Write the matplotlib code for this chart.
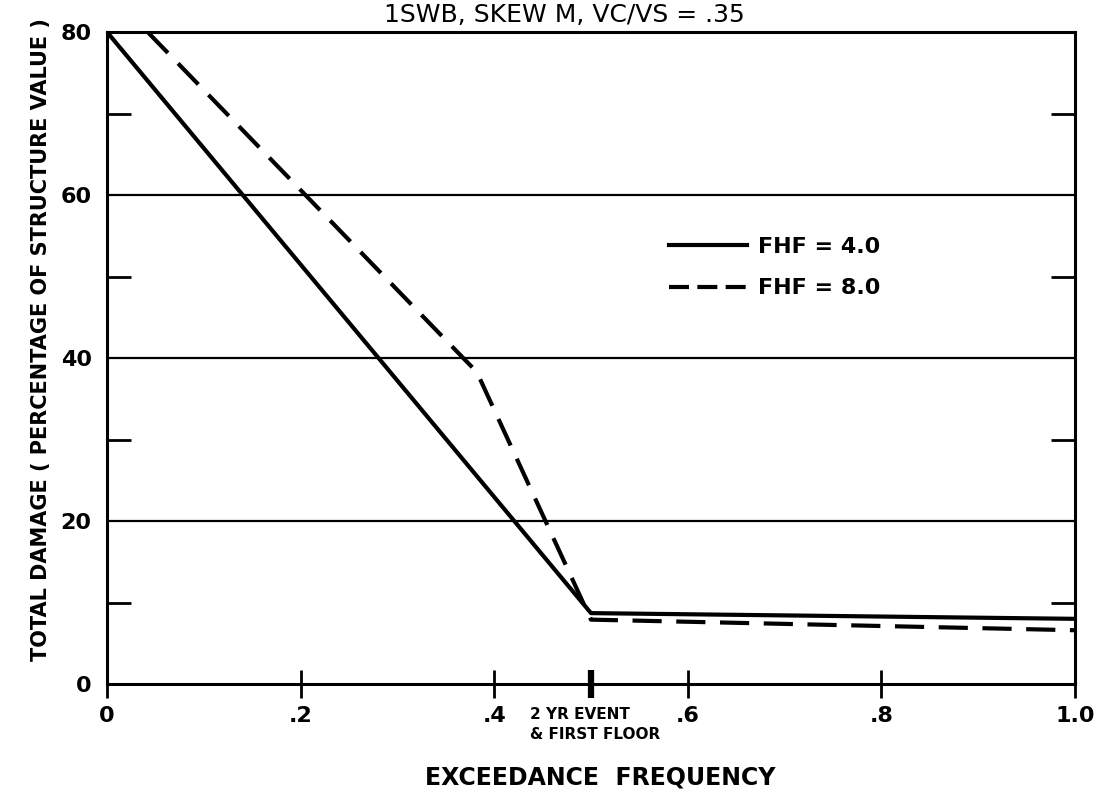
import matplotlib
matplotlib.use("Agg")
import matplotlib.pyplot as plt
from matplotlib.lines import Line2D

# Exceedance frequency vs. total damage for two first-floor heights
fhf4_x = [0.0, 0.5, 1.0]
fhf4_y = [80.0, 8.7, 8.0]

fhf8_x = [0.042, 0.368, 0.382, 0.394, 0.5, 1.0]
fhf8_y = [80.0, 40.0, 38.3, 35.2, 7.9, 6.6]

x_ticks = [0.0, 0.2, 0.4, 0.6, 0.8, 1.0]
x_tick_labels = ["0", ".2", ".4", ".6", ".8", "1.0"]
y_ticks = [0, 20, 40, 60, 80]
y_tick_labels = ["0", "20", "40", "60", "80"]
y_minor = [10, 30, 50, 70]
event_x = 0.5

title = "1SWB, SKEW M, VC/VS = .35"
xlabel = "EXCEEDANCE  FREQUENCY"
ylabel = "TOTAL DAMAGE ( PERCENTAGE OF STRUCTURE VALUE )"
event_label = "2 YR EVENT\n& FIRST FLOOR"
labels = ["FHF = 4.0", "FHF = 8.0"]

plt.rcParams["font.family"] = ["DejaVu Sans"]
fig = plt.figure(figsize=(10.95, 7.94), dpi=100)
ax = fig.add_axes([0.0977, 0.1385, 0.8840, 0.8212])

ax.set_xlim(0, 1.0)
ax.set_ylim(0, 80)

for v in [20, 40, 60]:
    ax.axhline(v, color="black", lw=1.6, zorder=1)

ax.plot(fhf4_x, fhf4_y, color="black", lw=3.0, solid_joinstyle="round", zorder=3)
ax.plot(fhf8_x, fhf8_y, color="black", lw=3.0, dashes=(7, 3.5), zorder=3)

for s in ax.spines.values():
    s.set_linewidth(2.2)

ax.set_xticks(x_ticks)
ax.set_xticklabels(x_tick_labels, fontsize=16, fontweight="bold")
ax.set_xticks([event_x], minor=True)
ax.tick_params(axis="x", which="major", direction="inout", length=20, width=2.0, pad=6)
ax.tick_params(axis="x", which="minor", direction="inout", length=20, width=4.5)

ax.set_yticks(y_ticks)
ax.set_yticklabels(y_tick_labels, fontsize=16, fontweight="bold")
ax.set_yticks(y_minor, minor=True)
ax.tick_params(axis="y", which="major", length=0, pad=11)
ax.tick_params(axis="y", which="minor", direction="in", length=17, width=2.0,
               left=True, right=True)

fig.text(0.515, 0.981, title, ha="center", va="center",
         fontsize=18, family="Liberation Sans Narrow")
ax.text(0.437, -0.035, event_label, transform=ax.transAxes, ha="left", va="top",
        fontsize=11, fontweight="bold", linespacing=1.4)

fig.text(0.548, 0.021, xlabel, ha="center", va="center", fontsize=17, fontweight="bold")
fig.text(0.037, 0.572, ylabel, ha="center", va="center", rotation=90,
         fontsize=15, fontweight="bold")

handles = [Line2D([], [], color="black", lw=3.0),
           Line2D([], [], color="black", lw=3.0, dashes=(4.8, 2.0))]
ax.legend(handles, labels, loc="upper left", bbox_to_anchor=(0.56, 0.716),
          frameon=False, handlelength=3.5, handletextpad=0.5, labelspacing=0.95,
          prop={"size": 16, "weight": "bold"})

fig.savefig("out.png", dpi=100)
